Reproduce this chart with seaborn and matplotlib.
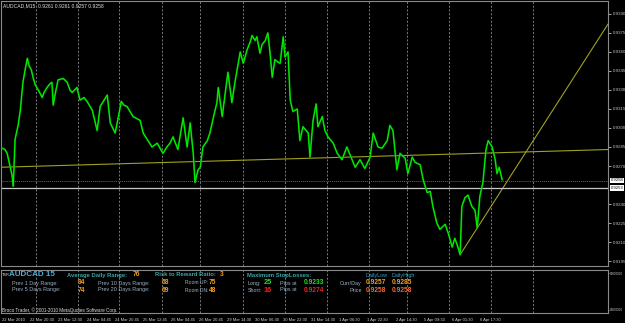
import matplotlib
matplotlib.use("Agg")
import matplotlib.pyplot as plt
import matplotlib.transforms as mtransforms
import seaborn as sns
import pandas as pd

# ---------------- data ----------------
chart_title = "AUDCAD,M15  0.9261 0.9261 0.9257 0.9258"

bars = [5, 11, 16, 23, 27, 30, 34, 41, 46, 52, 57, 62, 66, 71, 75, 80, 87, 96, 100, 107,
        114, 118, 121, 125, 132, 144, 153, 159, 164, 175, 182, 191, 198, 210, 221, 228, 237,
        244, 251, 262, 269, 276, 282, 289, 303, 319, 326, 335, 346, 358, 371, 380, 387, 394,
        405, 417, 426, 433, 440, 444, 451, 456, 462, 472, 478, 487, 494, 497, 506, 513, 519,
        528, 535, 542, 547, 554, 563, 570, 574, 581, 585, 592, 597, 604, 610, 615, 620, 626,
        633, 638, 645, 649, 656, 661, 667, 677, 683, 690, 702, 706, 713, 720, 724, 734, 740,
        747, 759, 768, 779, 790, 802, 809, 820, 831, 843, 850, 861, 870, 882, 888, 895, 904,
        911, 923, 929, 939, 945, 957, 964, 973, 980, 986, 995, 1002, 1014, 1021, 1030, 1036,
        1043, 1048, 1052, 1059, 1066, 1075, 1082, 1087, 1093, 1100, 1107, 1112, 1121, 1128,
        1132, 1137, 1144]
prices = [0.9284, 0.9283, 0.9280, 0.9269, 0.9263, 0.9254, 0.9291, 0.9302, 0.9314, 0.9336,
          0.9346, 0.9355, 0.9349, 0.9346, 0.9340, 0.9334, 0.9330, 0.9324, 0.9328, 0.9332,
          0.9335, 0.9336, 0.9318, 0.9326, 0.9338, 0.9339, 0.9336, 0.9330, 0.9328, 0.9332,
          0.9322, 0.9324, 0.9321, 0.9314, 0.9298, 0.9317, 0.9322, 0.9326, 0.9304, 0.9296,
          0.9308, 0.9321, 0.9318, 0.9317, 0.9309, 0.9306, 0.9296, 0.9291, 0.9285, 0.9288,
          0.9280, 0.9285, 0.9288, 0.9293, 0.9283, 0.9308, 0.9285, 0.9304, 0.9280, 0.9257,
          0.9267, 0.9269, 0.9285, 0.9290, 0.9296, 0.9310, 0.9320, 0.9332, 0.9309, 0.9328,
          0.9344, 0.9320, 0.9336, 0.9350, 0.9360, 0.9351, 0.9362, 0.9368, 0.9373, 0.9369,
          0.9372, 0.9359, 0.9366, 0.9369, 0.9375, 0.9359, 0.9340, 0.9354, 0.9352, 0.9351,
          0.9372, 0.9356, 0.9360, 0.9322, 0.9313, 0.9315, 0.9290, 0.9301, 0.9296, 0.9277,
          0.9306, 0.9319, 0.9301, 0.9309, 0.9298, 0.9293, 0.9288, 0.9280, 0.9275, 0.9285,
          0.9275, 0.9269, 0.9275, 0.9268, 0.9277, 0.9296, 0.9285, 0.9284, 0.9290, 0.9302,
          0.9298, 0.9267, 0.9280, 0.9276, 0.9264, 0.9277, 0.9273, 0.9271, 0.9259, 0.9249,
          0.9250, 0.9238, 0.9225, 0.9220, 0.9224, 0.9217, 0.9206, 0.9213, 0.9206, 0.9200,
          0.9238, 0.9245, 0.9247, 0.9238, 0.9235, 0.9221, 0.9246, 0.9257, 0.9283, 0.9290,
          0.9285, 0.9275, 0.9264, 0.9269, 0.9259]

ma_bars = [0, 1385]
ma_prices = [0.9269, 0.9283]
trend_bars = [1048, 1385]
trend_prices = [0.9200, 0.9382]
bid_price = 0.9258
line_price = 0.9253

price_ticks = [0.9390, 0.9375, 0.9360, 0.9345, 0.9330, 0.9315, 0.9300, 0.9285,
               0.9270, 0.9240, 0.9225, 0.9210, 0.9195]
time_labels = ["22 Mar 2010", "22 Mar 20:30", "23 Mar 12:30", "24 Mar 04:45", "24 Mar 20:45",
               "25 Mar 12:45", "26 Mar 04:45", "26 Mar 20:45", "29 Mar 14:30", "30 Mar 06:30",
               "30 Mar 22:30", "31 Mar 14:30", "1 Apr 06:30", "1 Apr 22:30", "2 Apr 14:30",
               "5 Apr 09:30", "6 Apr 01:30", "6 Apr 17:30"]
time_label_bars = [5, 69, 133, 197, 261, 325, 389, 453, 517, 581, 645, 709, 773, 837,
                   901, 965, 1029, 1093]
grid_bars = [82, 178, 271, 369, 456, 554, 649, 745, 841, 927, 1023, 1118, 1214]

# ---------------- figure ----------------
sns.set_theme(style="dark")
plt.rcParams["font.family"] = ["Liberation Sans", "DejaVu Sans"]

W, H = 625, 323
fig = plt.figure(figsize=(W / 100, H / 100), dpi=100, facecolor="#000000")

ax = fig.add_axes([1 / W, 1 - 266 / H, 607 / W, 265 / H])
axi = fig.add_axes([1 / W, 1 - 313 / H, 607 / W, 43 / H])

for a in (ax, axi):
    a.set_facecolor("#000000")
    a.set_xlim(2, 1385)
    a.grid(False)
    for s in a.spines.values():
        s.set_color("#8a8a8a")
        s.set_linewidth(0.8)
    for b in grid_bars:
        a.axvline(b, color="#8a8a8a", ls=(0, (2.5, 2)), lw=0.6, zorder=1)

ax.set_ylim(0.91911, 0.94002)

df = pd.DataFrame({"bar": bars, "price": prices})
sns.lineplot(data=df, x="bar", y="price", ax=ax, color="#009a00", lw=1.3,
             estimator=None, zorder=3)
sns.lineplot(data=df, x="bar", y="price", ax=ax, color="#00ff00", lw=0.6,
             estimator=None, zorder=4)
sns.lineplot(x=ma_bars, y=ma_prices, ax=ax, color="#a0a020", lw=0.8, zorder=2)
sns.lineplot(x=trend_bars, y=trend_prices, ax=ax, color="#a0a020", lw=0.8, zorder=2)

ax.axhline(bid_price, color="#4a6a9a", lw=0.7, ls=(0, (1, 1)), zorder=2)
ax.axhline(line_price, color="#c8c8c8", lw=0.9, zorder=2)

ax.set_xlabel("")
ax.set_ylabel("")
ax.set_xticks([])
ax.yaxis.tick_right()
ax.set_yticks(price_ticks)
ax.set_yticklabels([f"{p:.4f}" for p in price_ticks])
ax.tick_params(axis="y", which="both", right=True, left=False, length=2, width=0.6,
               color="#c0c0c0", labelcolor="#c8c8c8", labelsize=3.2, pad=1.2)

# current price box
trans = mtransforms.blended_transform_factory(ax.transAxes, ax.transData)
ax.text(1.004, bid_price + 0.00008, f"{bid_price:.4f}", transform=trans, fontsize=3.1,
        color="#000000", va="center", ha="left",
        bbox=dict(boxstyle="square,pad=0.15", fc="#ffffff", ec="#ffffff", lw=0))
ax.text(1.004, line_price - 0.00004, f"{line_price:.4f}", transform=trans, fontsize=3.1,
        color="#000000", va="center", ha="left",
        bbox=dict(boxstyle="square,pad=0.15", fc="#ffffff", ec="#ffffff", lw=0))

ax.text(0.004, 0.992, chart_title, transform=ax.transAxes, fontsize=3.6,
        color="#e0e0e0", va="top", ha="left")

# indicator window
axi.set_ylim(0, 1)
axi.yaxis.tick_right()
axi.set_yticks([0.93, 0.08])
axi.set_yticklabels(["90000000", "90000000"])
axi.tick_params(axis="y", length=1, width=0.6, color="#c0c0c0", labelcolor="#c8c8c8",
                labelsize=2.2, pad=0.5)
axi.set_xticks(time_label_bars)
axi.set_xticklabels(time_labels)
for lab in axi.get_xticklabels():
    lab.set_horizontalalignment("left")
axi.tick_params(axis="x", length=2.5, width=0.6, color="#c0c0c0", labelcolor="#d0d0d0",
                labelsize=3.0, pad=1)

# info panel text
def t(x, y, s, color, size=3.9, bold=False):
    fig.text(x / W, 1 - y / H, s, color=color, fontsize=size,
             fontweight="bold" if bold else "normal", va="center", ha="left")

head = "#3aa6a6"
lab = "#9cb2c8"
orange = "#f0a020"
t(2, 275, "TSR", "#e0e0e0", 2.8)
t(9, 275, "AUDCAD 15", "#4ab0e0", 5.8, True)
t(67, 275, "Average Daily Range:", head, 4.2, True)
t(133, 275, "76", orange, 4.8, True)
t(155, 275, "Risk to Reward Ratio:", head, 4.2, True)
t(220, 275, "3", orange, 4.8, True)
t(247, 275, "Maximum StopLosses:", head, 4.2, True)

t(12, 283, "Prev 1 Day Range:", lab)
t(78, 283, "94", orange, 4.8, True)
t(98, 283, "Prev 10 Days Range:", lab)
t(162, 283, "68", orange, 4.8, True)
t(185, 283, "Room UP:", lab, 3.6)
t(209, 283, "75", orange, 4.8, True)
t(248, 283, "Long:", lab)
t(264, 283, "25", "#22dd22", 5.3, True)
t(280, 283, "Pips at", lab)
t(304, 283, "0.9233", "#22dd22", 4.8, True)

t(12, 290, "Prev 5 Days Range:", lab)
t(78, 290, "74", orange, 4.8, True)
t(98, 290, "Prev 20 Days Range:", lab)
t(162, 290, "69", orange, 4.8, True)
t(185, 290, "Room DN:", lab, 3.6)
t(209, 290, "48", orange, 4.8, True)
t(248, 290, "Short:", lab)
t(264, 290, "16", "#ee2222", 5.3, True)
t(280, 290, "Pips at", lab)
t(304, 290, "0.9274", "#ee2222", 4.8, True)

t(366, 275, "DailyLow", "#3aa0c0", 3.9)
t(392, 275, "DailyHigh", "#3aa0c0", 3.9)
t(340, 283, "Curr/Day", lab)
t(366, 283, "0.9257", orange, 4.8, True)
t(392, 283, "0.9285", orange, 4.8, True)
t(349, 290, "Price", lab)
t(366, 290, "0.9258", "#f06a3a", 4.8, True)
t(392, 290, "0.9258", "#f06a3a", 4.8, True)

t(2, 310, "Broco Trader, \u00a9 2001-2010 MetaQuotes Software Corp.", "#e0e0e0", 3.3)

fig.savefig("out.png", dpi=100, facecolor=fig.get_facecolor())
